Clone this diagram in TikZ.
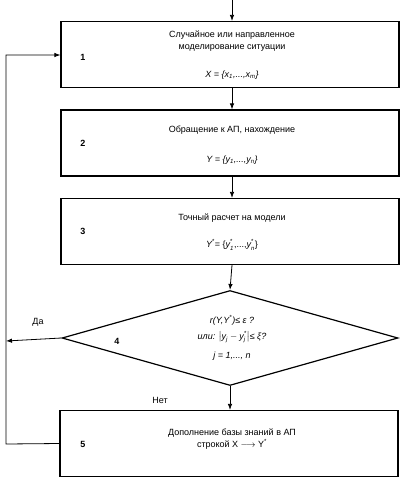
\documentclass[tikz,border=0pt]{standalone}
\usepackage{amsmath}
\usepackage{fontspec}
\setmainfont{Liberation Sans}
\usetikzlibrary{shapes.geometric,arrows.meta}
\newcommand{\ti}[1]{\text{\itshape #1}}
\tikzset{
  box/.style={draw,line width=1.2pt,minimum width=338pt,minimum height=66pt,inner sep=0pt},
  dia/.style={draw,line width=1.2pt,diamond,minimum width=336pt,minimum height=95pt,inner sep=0pt},
  arr/.style={line width=0.8pt,-{Latex[length=6pt,width=4.5pt]}},
  txt/.style={font=\fontsize{9}{12}\selectfont,align=center},
  num/.style={font=\fontsize{9}{12}\selectfont\bfseries},
}
\begin{document}
\begin{tikzpicture}[x=1pt,y=-1pt]
\useasboundingbox (0,0) rectangle (408,482);
\node[box] (b1) at (230,54.5) {};
\node[box] (b2) at (230,143) {};
\node[box] (b3) at (230,231.5) {};
\node[dia] (d4) at (230,338) {};
\node[box] (b5) at (229,443.5) {};
\coordinate (top) at (232,0);
\coordinate (yes) at (6,341);
\coordinate (lb) at (6,444);
\coordinate (lt) at (6,55);
% texts
\node[txt] (t1a) at (232,41) {Случайное или направленное\\моделирование ситуации};
\node[txt] (t1b) at (232,75) {\itshape X = \{x\textsubscript{1},...,x\textsubscript{m}\}};
\node[txt] (t2a) at (232,130) {Обращение к АП, нахождение};
\node[txt] (t2b) at (232,160) {\itshape Y = \{y\textsubscript{1},...,y\textsubscript{n}\}};
\node[txt] (t3a) at (232,218) {Точный расчет на модели};
\node[txt] (t3b) at (232,245) {$\ti{Y}^{\text{*}}$= \{$\ti{y}^{\text{*}}_{\ti{1}}$,...,$\ti{y}^{\text{*}}_{\ti{n}}$\}};
\node[txt] (t4a) at (232,320) {\itshape r(Y,Y\textsuperscript{*})≤ ε ?};
\node[txt] (t4b) at (232,337) {\itshape или: $\bigl|\ti{y}_{\ti{j}}-\ti{y}^{\text{*}}_{\ti{j}}\bigr|$≤ ξ?};
\node[txt] (t4c) at (232,356) {\itshape j = 1,..., n};
\node[txt] (t5) at (232,439) {Дополнение базы знаний в АП\\строкой X $\longrightarrow$ Y\textsuperscript{*}};
\node[num] (n1) at (83,57) {1};
\node[num] (n2) at (83,143) {2};
\node[num] (n3) at (83,231) {3};
\node[num] (n4) at (117,341) {4};
\node[num] (n5) at (83,444) {5};
\node[txt] (yesl) at (38,322) {Да};
\node[txt] (nol) at (160,400) {Нет};
% connectors
\draw[arr] (top) -- (b1.north -| top);
\draw[arr] (b1.south -| top) -- (b2.north -| top);
\draw[arr] (b2.south -| top) -- (b3.north -| top);
\draw[arr] (b3.south -| top) -- (d4.north);
\draw[arr] (d4.south) -- (b5.north -| d4.south);
\draw[arr] (d4.west) -- (yes);
\draw[arr] (b5.west) -- (lb) -- (lt) -- (b1.west |- lt);
\end{tikzpicture}
\end{document}
